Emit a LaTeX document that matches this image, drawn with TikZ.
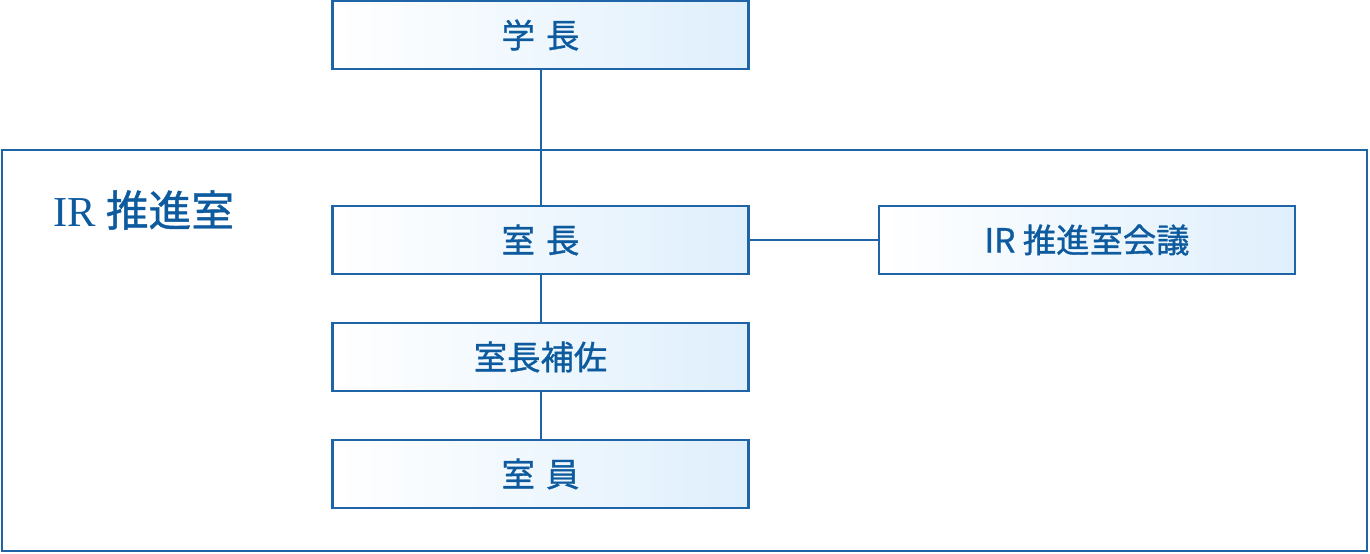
\documentclass[tikz,border=0pt]{standalone}
\usepackage{fontspec}
\setmainfont{Noto Sans CJK JP}
\newfontfamily\boxfont{Noto Sans CJK JP}[FakeBold=1]
\newfontfamily\titlelatin{Liberation Serif}
\usepackage{tikz}
\usepackage{xcolor}

\definecolor{orgline}{HTML}{1F64A6}
\definecolor{orgtext}{HTML}{0D5B9E}
\definecolor{orgshade}{HTML}{DFEFFC}

\tikzset{
  orgbox/.style={draw=orgline, line width=1.6pt, left color=white, right color=orgshade,
    minimum width=312pt, minimum height=50.5pt, inner sep=0pt,
    text=orgtext, font=\boxfont\fontsize{25}{28}\selectfont},
  orglink/.style={draw=orgline, line width=1.5pt}
}

\begin{document}
\begin{tikzpicture}[x=0.75pt,y=-0.75pt]
\useasboundingbox (0,0) rectangle (1370,553);
\draw[orgline, line width=1.5pt] (2,150) rectangle (1367,551);
\node[text=orgtext, anchor=west, font=\boxfont\fontsize{32}{35}\selectfont] (title) at (49,210) {{\titlelatin IR} 推進室};
\node[orgbox] (president) at (540.5,35) {学\,\,長};
\node[orgbox] (head) at (540.5,240) {室\,\,長};
\node[orgbox] (assistant) at (540.5,357) {室長補佐};
\node[orgbox] (staff) at (540.5,474) {室\,\,員};
\node[orgbox] (council) at (1087,240) {IR 推進室会議};
\draw[orglink] (president) -- (head);
\draw[orglink] (head) -- (council);
\draw[orglink] (head) -- (assistant);
\draw[orglink] (assistant) -- (staff);
\end{tikzpicture}
\end{document}
